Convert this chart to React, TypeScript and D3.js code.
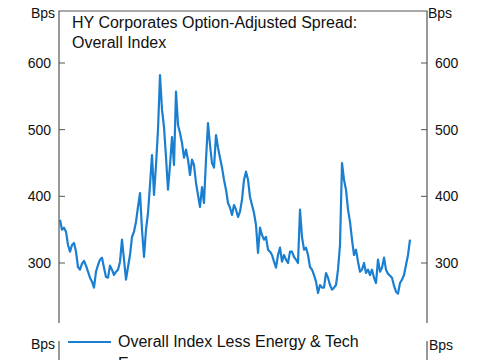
import * as d3 from 'd3'

const WIDTH = 485
const HEIGHT = 360

// spread readings, evenly spaced in time (no date axis visible)
const spreadValues = [
  365, 350, 353, 347, 327, 317, 327, 330, 317, 294, 290, 299, 303, 296, 287, 278,
  272, 263, 287, 297, 305, 308, 293, 279, 278, 296, 290, 282, 287, 290, 302, 335,
  305, 275, 294, 312, 339, 347, 362, 384, 405, 350, 309, 350, 375, 417, 462, 402,
  447, 500, 582, 530, 504, 459, 410, 447, 489, 447, 557, 507, 495, 480, 458, 470,
  455, 432, 455, 447, 420, 402, 384, 414, 390, 455, 510, 477, 450, 443, 492, 473,
  458, 443, 425, 410, 390, 383, 372, 387, 380, 369, 377, 395, 425, 437, 425, 399,
  387, 375, 357, 315, 353, 342, 335, 339, 320, 317, 312, 302, 293, 312, 323, 302,
  312, 305, 300, 317, 317, 309, 305, 300, 380, 339, 320, 323, 312, 294, 290, 282,
  272, 255, 267, 263, 263, 285, 278, 267, 260, 263, 267, 290, 327, 450, 425, 410,
  380, 362, 335, 312, 320, 302, 287, 290, 300, 285, 290, 282, 290, 278, 270, 305,
  287, 293, 308, 290, 284, 281, 278, 266, 257, 254, 270, 275, 282, 297, 312, 335,
]

const yTicks = [300, 400, 500, 600]
const titleLines = ['HY Corporates Option-Adjusted Spread:', 'Overall Index']
const unitLabel = 'Bps'
const legendLabels = ['Overall Index Less Energy & Tech', 'Energy']

const LINE_COLOR = '#1b7fd1'
const AXIS_COLOR = '#555'
const FONT = '"Liberation Sans", Arial, sans-serif'

export default function App() {
  const left = 59
  const right = 427
  const top = 11
  const bottom = 323

  const x = d3
    .scaleLinear()
    .domain([0, spreadValues.length - 1])
    .range([60, 410])
  const y = d3.scaleLinear().domain([210, 678]).range([bottom, top])

  const line = d3
    .line<number>()
    .x((_, i) => x(i))
    .y((d) => y(d))

  return (
    <div style={{ position: 'fixed', left: 0, top: 0 }}>
      <svg width={WIDTH} height={HEIGHT} style={{ display: 'block', fontFamily: FONT }}>
        <rect width={WIDTH} height={HEIGHT} fill="#fff" />

        {/* upper panel frame */}
        <path
          d={`M${left},${bottom}V${top}H${right}V${bottom}`}
          fill="none"
          stroke={AXIS_COLOR}
          strokeWidth={1.2}
        />
        {yTicks.map((t) => (
          <g key={t}>
            <line x1={left} x2={left + 6} y1={y(t)} y2={y(t)} stroke={AXIS_COLOR} />
            <line x1={right - 6} x2={right} y1={y(t)} y2={y(t)} stroke={AXIS_COLOR} />
            <text x={51} y={y(t)} dy="0.35em" textAnchor="end" fontSize={14} fill="#111">
              {t}
            </text>
            <text x={435} y={y(t)} dy="0.35em" textAnchor="start" fontSize={14} fill="#111">
              {t}
            </text>
          </g>
        ))}
        <text x={55} y={18} textAnchor="end" fontSize={14} fill="#111">
          {unitLabel}
        </text>
        <text x={428} y={18} fontSize={14} fill="#111">
          {unitLabel}
        </text>

        {titleLines.map((s, i) => (
          <text key={s} x={72} y={28 + i * 20} fontSize={16} fill="#111">
            {s}
          </text>
        ))}

        <path
          d={line(spreadValues) ?? undefined}
          fill="none"
          stroke={LINE_COLOR}
          strokeWidth={2.2}
          strokeLinejoin="round"
        />

        {/* lower panel, mostly outside the window */}
        <line x1={left} x2={left} y1={341} y2={HEIGHT} stroke={AXIS_COLOR} strokeWidth={1.2} />
        <line x1={right} x2={right} y1={341} y2={HEIGHT} stroke={AXIS_COLOR} strokeWidth={1.2} />
        <text x={55} y={349} textAnchor="end" fontSize={14} fill="#111">
          {unitLabel}
        </text>
        <text x={429} y={350} fontSize={14} fill="#111">
          {unitLabel}
        </text>
        <line x1={68} x2={111} y1={342} y2={342} stroke={LINE_COLOR} strokeWidth={1.8} />
        <text x={118} y={347} fontSize={16} fill="#111">
          {legendLabels[0]}
        </text>
        <text x={118} y={369} fontSize={16} fill="#111">
          {legendLabels[1]}
        </text>
      </svg>
    </div>
  )
}
